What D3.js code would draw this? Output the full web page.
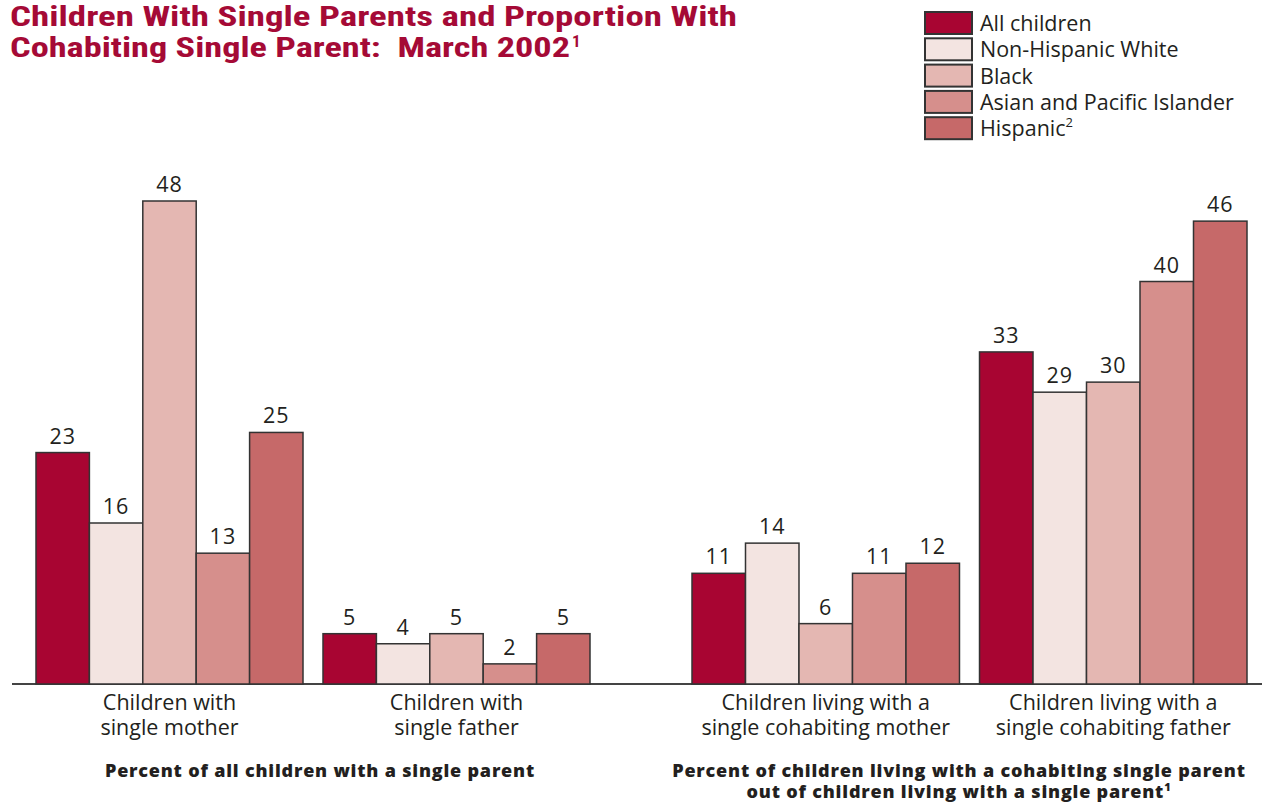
<!DOCTYPE html>
<html>
<head>
<meta charset="utf-8">
<script src="https://cdn.jsdelivr.net/npm/d3@7"></script>
<style>
  html, body { margin: 0; padding: 0; background: #fff; }
  svg { display: block; }
</style>
</head>
<body>
<svg id="chart" width="1262" height="803"></svg>
<script>
// ---- data ----
const series = ["All children", "Non-Hispanic White", "Black", "Asian and Pacific Islander", "Hispanic"];
const seriesColors = ["#a80532", "#f3e4e1", "#e4b7b2", "#d68f8c", "#c66969"];
const section1Categories = ["Children with|single mother", "Children with|single father"];
const section2Categories = ["Children living with a|single cohabiting mother", "Children living with a|single cohabiting father"];
const singleMother = [23, 16, 48, 13, 25];
const singleFather = [5, 4, 5, 2, 5];
const cohabMother = [11, 14, 6, 11, 12];
const cohabFather = [33, 29, 30, 40, 46];
const section1Title = ["Percent of all children with a single parent"];
const section2Title = ["Percent of children living with a cohabiting single parent", "out of children living with a single parent"];

const svg = d3.select("#chart");
const font = "'Open Sans', 'Noto Sans', sans-serif";
const ink = "#231f20";
const fs = 21.5;

// title
const title = svg.append("text").attr("fill", "#a50a36")
  .attr("font-family", "'Liberation Sans Narrow', 'Roboto Condensed', 'Liberation Sans', sans-serif")
  .attr("font-weight", "bold").attr("font-size", 28).style("white-space", "pre");
title.append("tspan").attr("x", 10).attr("y", 26).attr("textLength", 727).attr("lengthAdjust", "spacingAndGlyphs")
  .text("Children With Single Parents and Proportion With");
title.append("tspan").attr("x", 10).attr("y", 57).attr("textLength", 560).attr("lengthAdjust", "spacingAndGlyphs")
  .text("Cohabiting Single Parent:  March 2002");
title.append("tspan").attr("font-size", 17).attr("dy", -10).attr("dx", 2).text("1");

// scales
const y = d3.scaleLinear().domain([0, 48]).range([684, 201]);
const sections = [
  { cats: section1Categories, data: [singleMother, singleFather], range: [36, 590], title: section1Title, titleX: 320 },
  { cats: section2Categories, data: [cohabMother, cohabFather], range: [692, 1247], title: section2Title, titleX: 959 }
];

// baseline
svg.append("line").attr("x1", 12).attr("x2", 1262).attr("y1", y(0)).attr("y2", y(0))
  .attr("stroke", "#444").attr("stroke-width", 2);

sections.forEach((sec, si) => {
  const x0 = d3.scaleBand().domain(sec.cats).range(sec.range).paddingInner(20 / 287).paddingOuter(0);
  const x1 = d3.scaleBand().domain(series).range([0, x0.bandwidth()]).padding(0);
  sec.cats.forEach((cat, ci) => {
    const vals = sec.data[ci];
    const g = svg.append("g").attr("transform", `translate(${x0(cat)},0)`);
    g.selectAll("rect").data(vals).join("rect")
      .attr("x", (d, i) => x1(series[i]))
      .attr("y", d => y(d))
      .attr("width", x1.bandwidth())
      .attr("height", d => y(0) - y(d))
      .attr("fill", (d, i) => seriesColors[i])
      .attr("stroke", "#333").attr("stroke-width", 1.5);
    g.selectAll("text.val").data(vals).join("text").attr("class", "val")
      .attr("x", (d, i) => x1(series[i]) + x1.bandwidth() / 2)
      .attr("y", d => y(d) - 9)
      .attr("text-anchor", "middle").attr("font-family", font).attr("font-size", fs)
      .attr("letter-spacing", 1)
      .attr("fill", ink).text(d => d);
    const lbl = svg.append("text").attr("text-anchor", "middle").attr("font-family", font)
      .attr("font-size", fs).attr("fill", ink);
    cat.split("|").forEach((line, li) => {
      lbl.append("tspan").attr("x", x0(cat) + x0.bandwidth() / 2).attr("y", 710 + li * 25).text(line);
    });
  });
  const st = svg.append("text").attr("text-anchor", "middle").attr("font-family", font)
    .attr("font-weight", 800).attr("font-size", 18).attr("letter-spacing", 0.8).attr("fill", ink);
  sec.title.forEach((line, li) => {
    st.append("tspan").attr("x", sec.titleX).attr("y", 777 + li * 21).text(line);
  });
  if (si === 1) {
    st.append("tspan").attr("font-size", 11).attr("dy", -7).text("1");
  }
});

// legend
const legend = svg.append("g").attr("transform", "translate(925,12)");
series.forEach((s, i) => {
  const row = legend.append("g").attr("transform", `translate(0,${i * 26.3})`);
  row.append("rect").attr("width", 47).attr("height", 22).attr("fill", seriesColors[i])
    .attr("stroke", "#333").attr("stroke-width", 2);
  const tx = row.append("text").attr("x", 55).attr("y", 19).attr("font-family", font)
    .attr("font-size", fs).attr("fill", ink).text(s);
  if (i === 4) tx.append("tspan").attr("font-size", 13).attr("dy", -9).text("2");
});
</script>
</body>
</html>
